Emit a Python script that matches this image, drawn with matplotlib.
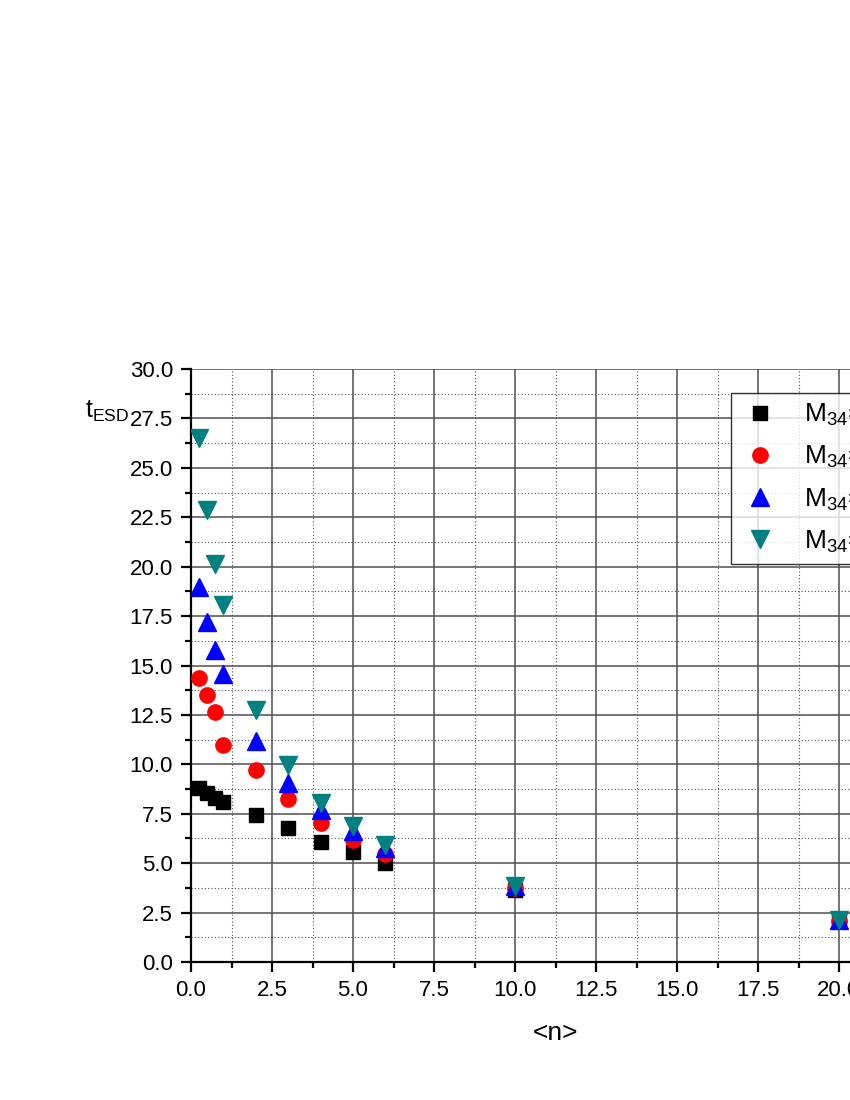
import matplotlib
matplotlib.use("Agg")
import matplotlib.pyplot as plt
from matplotlib.ticker import MultipleLocator, FormatStrFormatter

plt.rcParams['font.family'] = ['Liberation Sans', 'DejaVu Sans']
plt.rcParams['mathtext.default'] = 'regular'

n_values = [0.25, 0.5, 0.75, 1, 2, 3, 4, 5, 6, 10, 20]
t_black = [8.78, 8.53, 8.31, 8.11, 7.44, 6.76, 6.09, 5.55, 5.02, 3.65, 2.05]
t_red = [14.35, 13.52, 12.66, 10.98, 9.71, 8.23, 7.05, 6.17, 5.45, 3.72, 2.07]
t_blue = [18.98, 17.21, 15.78, 14.55, 11.18, 9.07, 7.69, 6.64, 5.78, 3.85, 2.10]
t_teal = [26.50, 22.86, 20.15, 18.04, 12.75, 9.95, 8.06, 6.88, 5.92, 3.85, 2.10]
labels = ['M$_{34}$=1', 'M$_{34}$=2', 'M$_{34}$=3', 'M$_{34}$=4']

fig = plt.figure(figsize=(8.5, 11), dpi=100)
ax = fig.add_axes([191/850, 1-962/1100, 729/850, 593/1100])

ax.plot(n_values, t_black, 's', color='black', ms=10.5, label=labels[0], zorder=3)
ax.plot(n_values, t_red, 'o', color='#ff0000', ms=11, label=labels[1], zorder=3)
ax.plot(n_values, t_blue, '^', color='#0000ff', ms=12.5, label=labels[2], zorder=3)
ax.plot(n_values, t_teal, 'v', color='#008080', ms=12.5, label=labels[3], zorder=3)

ax.set_xlim(0, 22.5)
ax.set_ylim(0, 30)
ax.xaxis.set_major_locator(MultipleLocator(2.5))
ax.xaxis.set_minor_locator(MultipleLocator(1.25))
ax.yaxis.set_major_locator(MultipleLocator(2.5))
ax.yaxis.set_minor_locator(MultipleLocator(1.25))
ax.xaxis.set_major_formatter(FormatStrFormatter('%.1f'))
ax.yaxis.set_major_formatter(FormatStrFormatter('%.1f'))

ax.grid(which='major', color='#505050', lw=1.1, ls='-')
ax.grid(which='minor', color='#505050', lw=0.8, ls=(0, (1, 2)))
ax.set_axisbelow(True)
ax.get_ygridlines()[-1].set_visible(False)

for s in ['top', 'right']:
    ax.spines[s].set_visible(False)
for s in ['left', 'bottom']:
    ax.spines[s].set_linewidth(1.6)

ax.tick_params(which='major', direction='out', length=7, width=1.6, labelsize=16, pad=6)
ax.tick_params(which='minor', direction='out', length=4, width=1.6)
ax.tick_params(top=False, right=False)

ax.set_xlabel('<n>', fontsize=19, labelpad=14)
fig.text(85/850, 1-418/1100, 't$_{ESD}$', fontsize=18, ha='left', va='baseline')

leg = ax.legend(loc='upper left', bbox_to_anchor=((731-191)/729, (962-393)/593),
                borderaxespad=0, fontsize=19, frameon=True, fancybox=False,
                edgecolor='black', handletextpad=0.9, labelspacing=0.6,
                borderpad=0.35, handlelength=1.5)
leg.get_frame().set_linewidth(1.0)

fig.savefig('out.png', dpi=100)
